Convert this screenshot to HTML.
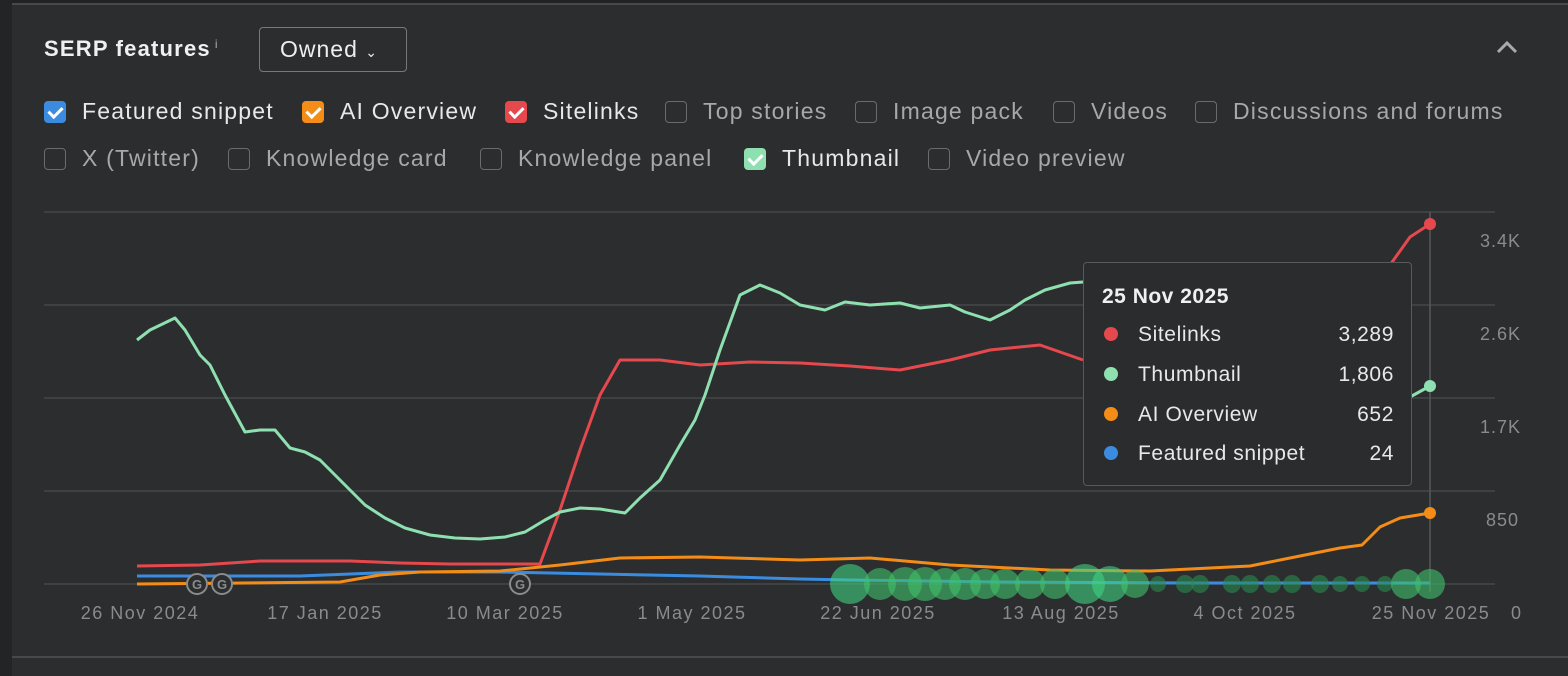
<!DOCTYPE html>
<html><head><meta charset="utf-8"><style>
body{margin:0;width:1568px;height:676px;background:#2c2d2f;font-family:"Liberation Sans",sans-serif;overflow:hidden;position:relative;color:#e8e8e8}
.top{position:absolute;left:0;top:0;width:1568px;height:4px;background:#222}
.topl{position:absolute;left:12px;top:3px;width:1556px;height:2px;background:#48494b}
.left{position:absolute;left:0;top:0;width:12px;height:676px;background:#232425}
.bot{position:absolute;left:12px;top:656px;width:1556px;height:2px;background:#48494b}
.title{position:absolute;left:44px;top:36px;font-size:22px;font-weight:bold;color:#f0f0f0;letter-spacing:1.2px}
.title sup{font-size:12px;font-weight:normal;color:#aaa;margin-left:4px}
.btn{position:absolute;left:259px;top:27px;width:148px;height:45px;border:1px solid #77787a;border-radius:4px;box-sizing:border-box;font-size:23px;line-height:43px;padding-left:20px;color:#eee;letter-spacing:1px}
.cb{position:absolute;font-size:23px;line-height:26px;color:#e8e8e8;white-space:nowrap;letter-spacing:1.2px}
.cb.off{color:#a8a8a8}
.cb i{display:inline-block;width:22px;height:22px;border-radius:4px;vertical-align:-4px;margin-right:16px;box-sizing:border-box;border:1.5px solid #6a6b6d;position:relative}
.cb i.on{border:none}
.cb i.on:after{content:"";position:absolute;left:7px;top:3px;width:6px;height:11px;border:solid #fff;border-width:0 3px 3px 0;transform:rotate(45deg)}
.tip{position:absolute;left:1083px;top:262px;width:329px;height:224px;box-sizing:border-box;background:#2b2c2e;border:1px solid #58595b;border-radius:4px}
.tip .h{position:absolute;left:18px;top:22px;font-size:21px;font-weight:bold;color:#f0f0f0;letter-spacing:0.5px}
.row{position:absolute;left:20px;width:290px;font-size:21px;color:#e8e8e8;letter-spacing:0.6px}
.row b{display:inline-block;width:14px;height:14px;border-radius:50%;margin-right:20px;vertical-align:0}
.row span{position:absolute;right:0}
</style></head><body>
<div class="top"></div><div class="topl"></div><div class="left"></div><div class="bot"></div>
<div class="title">SERP features<sup>i</sup></div>
<div class="btn">Owned <span style="font-size:14px">&#8964;</span></div>
<svg style="position:absolute;left:1496px;top:40px" width="24" height="16"><polyline points="2,12 11,3 20,12" fill="none" stroke="#aaa" stroke-width="3"/></svg>
<div class="cb" style="left:44px;top:98px"><i class="on" style="background:#3b8ce0"></i>Featured snippet</div>
<div class="cb" style="left:302px;top:98px"><i class="on" style="background:#f38d18"></i>AI Overview</div>
<div class="cb" style="left:505px;top:98px"><i class="on" style="background:#e5484d"></i>Sitelinks</div>
<div class="cb off" style="left:665px;top:98px"><i></i>Top stories</div>
<div class="cb off" style="left:855px;top:98px"><i></i>Image pack</div>
<div class="cb off" style="left:1053px;top:98px"><i></i>Videos</div>
<div class="cb off" style="left:1195px;top:98px"><i></i>Discussions and forums</div>
<div class="cb off" style="left:44px;top:145px"><i></i>X (Twitter)</div>
<div class="cb off" style="left:228px;top:145px"><i></i>Knowledge card</div>
<div class="cb off" style="left:480px;top:145px"><i></i>Knowledge panel</div>
<div class="cb" style="left:744px;top:145px"><i class="on" style="background:#8ee0b0"></i>Thumbnail</div>
<div class="cb off" style="left:928px;top:145px"><i></i>Video preview</div>
<svg style="position:absolute;left:0;top:0" width="1568" height="676" font-family="Liberation Sans,sans-serif">
<g stroke="#454648" stroke-width="1.5">
<line x1="44" y1="212" x2="1495" y2="212"/><line x1="44" y1="305" x2="1495" y2="305"/><line x1="44" y1="398" x2="1495" y2="398"/><line x1="44" y1="491" x2="1495" y2="491"/><line x1="44" y1="584" x2="1495" y2="584"/>
</g>
<line x1="1430" y1="212" x2="1430" y2="592" stroke="#58595b" stroke-width="1.5"/>
<g fill="#8a8b8d" font-size="18" letter-spacing="1">
<text x="1480" y="247">3.4K</text><text x="1480" y="340">2.6K</text><text x="1480" y="433">1.7K</text><text x="1486" y="526">850</text><text x="1511" y="619">0</text>
<g text-anchor="middle" letter-spacing="1.5"><text x="140" y="619">26 Nov 2024</text><text x="325" y="619">17 Jan 2025</text><text x="505" y="619">10 Mar 2025</text><text x="692" y="619">1 May 2025</text><text x="878" y="619">22 Jun 2025</text><text x="1061" y="619">13 Aug 2025</text><text x="1245" y="619">4 Oct 2025</text><text x="1431" y="619">25 Nov 2025</text></g>
</g>
<g fill="none" stroke-width="3" stroke-linejoin="round">
<polyline stroke="#3b8ce0" points="137,576 300,576 400,572 500,572 600,574 700,576 800,579 850,580 1000,582 1200,583 1430,583"/>
<polyline stroke="#f38d18" points="137,584 340,582 380,575 420,572 500,571 560,565 620,558 700,557 800,560 870,558 950,565 1050,570 1150,571 1250,566 1300,556 1340,548 1362,545 1380,527 1400,518 1430,513"/>
<polyline stroke="#e5484d" points="137,566 200,565 260,561 350,561 400,563 450,564 540,564 560,510 580,450 600,395 620,360 660,360 700,365 750,362 800,363 850,366 900,370 950,360 990,350 1040,345 1083,360"/>
<polyline stroke="#e5484d" points="1390,265 1410,237 1430,224"/>
<polyline stroke="#8ee0b0" points="137,340 150,330 175,318 185,330 200,355 210,365 225,395 245,432 260,430 275,430 290,448 305,452 320,460 335,475 350,490 365,505 385,518 405,528 430,535 455,538 480,539 505,537 525,532 545,520 560,512 580,508 600,509 625,513 640,498 660,480 680,445 695,420 705,395 720,350 740,295 760,285 780,293 800,305 825,310 845,302 870,305 900,303 920,308 950,305 965,312 990,320 1010,310 1025,300 1045,290 1070,283 1083,282"/>
<polyline stroke="#8ee0b0" points="1410,397 1430,386"/>
</g>
<circle cx="1430" cy="224" r="6" fill="#e5484d"/><circle cx="1430" cy="386" r="6" fill="#8ee0b0"/><circle cx="1430" cy="513" r="6" fill="#f38d18"/>
<g fill="#3fbf6a" fill-opacity="0.6">
<circle cx="850" cy="584" r="20" fill="#40d080"/><circle cx="880" cy="584" r="16"/><circle cx="905" cy="584" r="17"/><circle cx="925" cy="584" r="17"/><circle cx="945" cy="584" r="16"/><circle cx="965" cy="584" r="16"/><circle cx="985" cy="584" r="15"/><circle cx="1005" cy="584" r="15"/><circle cx="1030" cy="584" r="15"/><circle cx="1055" cy="584" r="15"/><circle cx="1085" cy="584" r="20" fill="#40d080"/><circle cx="1110" cy="584" r="18" fill="#40d080"/><circle cx="1135" cy="584" r="14"/><circle cx="1158" cy="584" r="8" fill="#2a8a50"/><circle cx="1185" cy="584" r="9" fill="#2a8a50"/><circle cx="1200" cy="584" r="9" fill="#2a8a50"/><circle cx="1232" cy="584" r="9" fill="#2a8a50"/><circle cx="1250" cy="584" r="9" fill="#2a8a50"/><circle cx="1272" cy="584" r="9" fill="#2a8a50"/><circle cx="1292" cy="584" r="9" fill="#2a8a50"/><circle cx="1320" cy="584" r="9" fill="#2a8a50"/><circle cx="1340" cy="584" r="8" fill="#2a8a50"/><circle cx="1362" cy="584" r="8" fill="#2a8a50"/><circle cx="1385" cy="584" r="8" fill="#2a8a50"/><circle cx="1406" cy="584" r="15"/><circle cx="1430" cy="584" r="15"/>
</g>
<g fill="#2c2d2f" stroke="#8a8b8d" stroke-width="2">
<circle cx="197" cy="584" r="10"/><circle cx="222" cy="584" r="10"/><circle cx="520" cy="584" r="10"/>
</g>
<g fill="#8a8b8d" font-size="13" font-weight="bold" text-anchor="middle"><text x="197" y="589">G</text><text x="222" y="589">G</text><text x="520" y="589">G</text></g>
</svg>
<div class="tip"><div class="h">25 Nov 2025</div>
<div class="row" style="top:60px"><b style="background:#e5484d"></b>Sitelinks<span>3,289</span></div>
<div class="row" style="top:100px"><b style="background:#8ee0b0"></b>Thumbnail<span>1,806</span></div>
<div class="row" style="top:140px"><b style="background:#f38d18"></b>AI Overview<span>652</span></div>
<div class="row" style="top:179px"><b style="background:#3b8ce0"></b>Featured snippet<span>24</span></div>
</div>
</body></html>
